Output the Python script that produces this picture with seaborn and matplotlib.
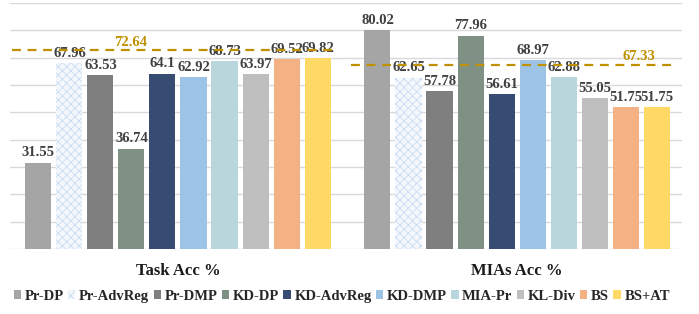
import pandas as pd
import matplotlib.pyplot as plt
import matplotlib.patches as mpatches
import seaborn as sns

# Data
metoder = ["Pr-DP", "Pr-AdvReg", "Pr-DMP", "KD-DP", "KD-AdvReg",
           "KD-DMP", "MIA-Pr", "KL-Div", "BS", "BS+AT"]
grupper = ["Task Acc %", "MIAs Acc %"]
task_acc = [31.55, 67.96, 63.53, 36.74, 64.1, 62.92, 68.73, 63.97, 69.52, 69.82]
mia_acc = [80.02, 62.65, 57.78, 77.96, 56.61, 68.97, 62.88, 55.05, 51.75, 51.75]
referens = [72.64, 67.33]

farger = ["#A5A5A5", "#F4F8FD", "#7F7F7F", "#7F9084", "#374B73",
          "#9DC3E6", "#B9D6DD", "#BFBFBF", "#F4B183", "#FFD966"]

df = pd.DataFrame({
    "Grupp": [grupper[0]] * len(metoder) + [grupper[1]] * len(metoder),
    "Metod": metoder + metoder,
    "Varde": task_acc + mia_acc,
})

sns.set_style("white")
plt.rcParams["font.family"] = ["Liberation Serif", "DejaVu Serif"]
plt.rcParams["hatch.linewidth"] = 0.6

fig = plt.figure(figsize=(6.99, 3.14), dpi=100)
ax = fig.add_axes([0.014, 0.207, 0.962, 0.784])

sns.barplot(data=df, x="Grupp", y="Varde", hue="Metod", hue_order=metoder,
            palette=farger, saturation=1, width=0.915, gap=0.16, linewidth=0,
            legend=False, ax=ax)

# Mönster på Pr-AdvReg
for bar in ax.containers[1]:
    bar.set_hatch("xxxx")
    bar.set_edgecolor("#C9DCF2")

# Värden ovanför staplarna
for cont, namn in zip(ax.containers, metoder):
    for bar in cont:
        h = bar.get_height()
        ax.text(bar.get_x() + bar.get_width() / 2, h + 1.2, f"{h:g}",
                ha="center", va="bottom", fontsize=10.5, fontweight="bold",
                color="#404040", zorder=4)

# Streckade referenslinjer
guld = "#BF9000"
for i, r in enumerate(referens):
    ax.hlines(r, i - 0.49, i + 0.47, colors=guld, linestyles=(0, (4, 3)),
              linewidth=1.6, zorder=5)
ax.text(-0.14, referens[0] + 0.4, f"{referens[0]:g}", ha="center", va="bottom",
        fontsize=10.5, fontweight="bold", color=guld, zorder=6)
ax.text(1.36, referens[1] + 0.6, f"{referens[1]:g}", ha="center", va="bottom",
        fontsize=10.5, fontweight="bold", color=guld, zorder=6)

ax.set_ylim(0, 90)
ax.set_xlim(-0.496, 1.487)
ax.set_yticks(range(0, 91, 10))
ax.set_yticklabels([])
ax.yaxis.grid(True, color="#D9D9D9", linewidth=1)
ax.set_axisbelow(True)
for s in ax.spines.values():
    s.set_visible(False)
ax.tick_params(axis="both", length=0)
ax.tick_params(axis="x", pad=10)
for t in ax.get_xticklabels():
    t.set_fontsize(12)
    t.set_fontweight("bold")
    t.set_color("#1A1A1A")
ax.set_xlabel("")
ax.set_ylabel("")

# Legend
handles = []
for namn, f in zip(metoder, farger):
    if namn == "Pr-AdvReg":
        handles.append(mpatches.Patch(facecolor=f, edgecolor="#C9DCF2",
                                      hatch="xxxx", linewidth=0, label=namn))
    else:
        handles.append(mpatches.Patch(facecolor=f, linewidth=0, label=namn))
fig.legend(handles=handles, loc="center", bbox_to_anchor=(0.489, 0.057),
           ncol=10, frameon=False, handlelength=0.5, handleheight=0.5,
           handletextpad=0.25, columnspacing=0.3, borderpad=0.1,
           prop={"size": 10.5, "weight": "bold"})

plt.savefig("out.png", dpi=100)
